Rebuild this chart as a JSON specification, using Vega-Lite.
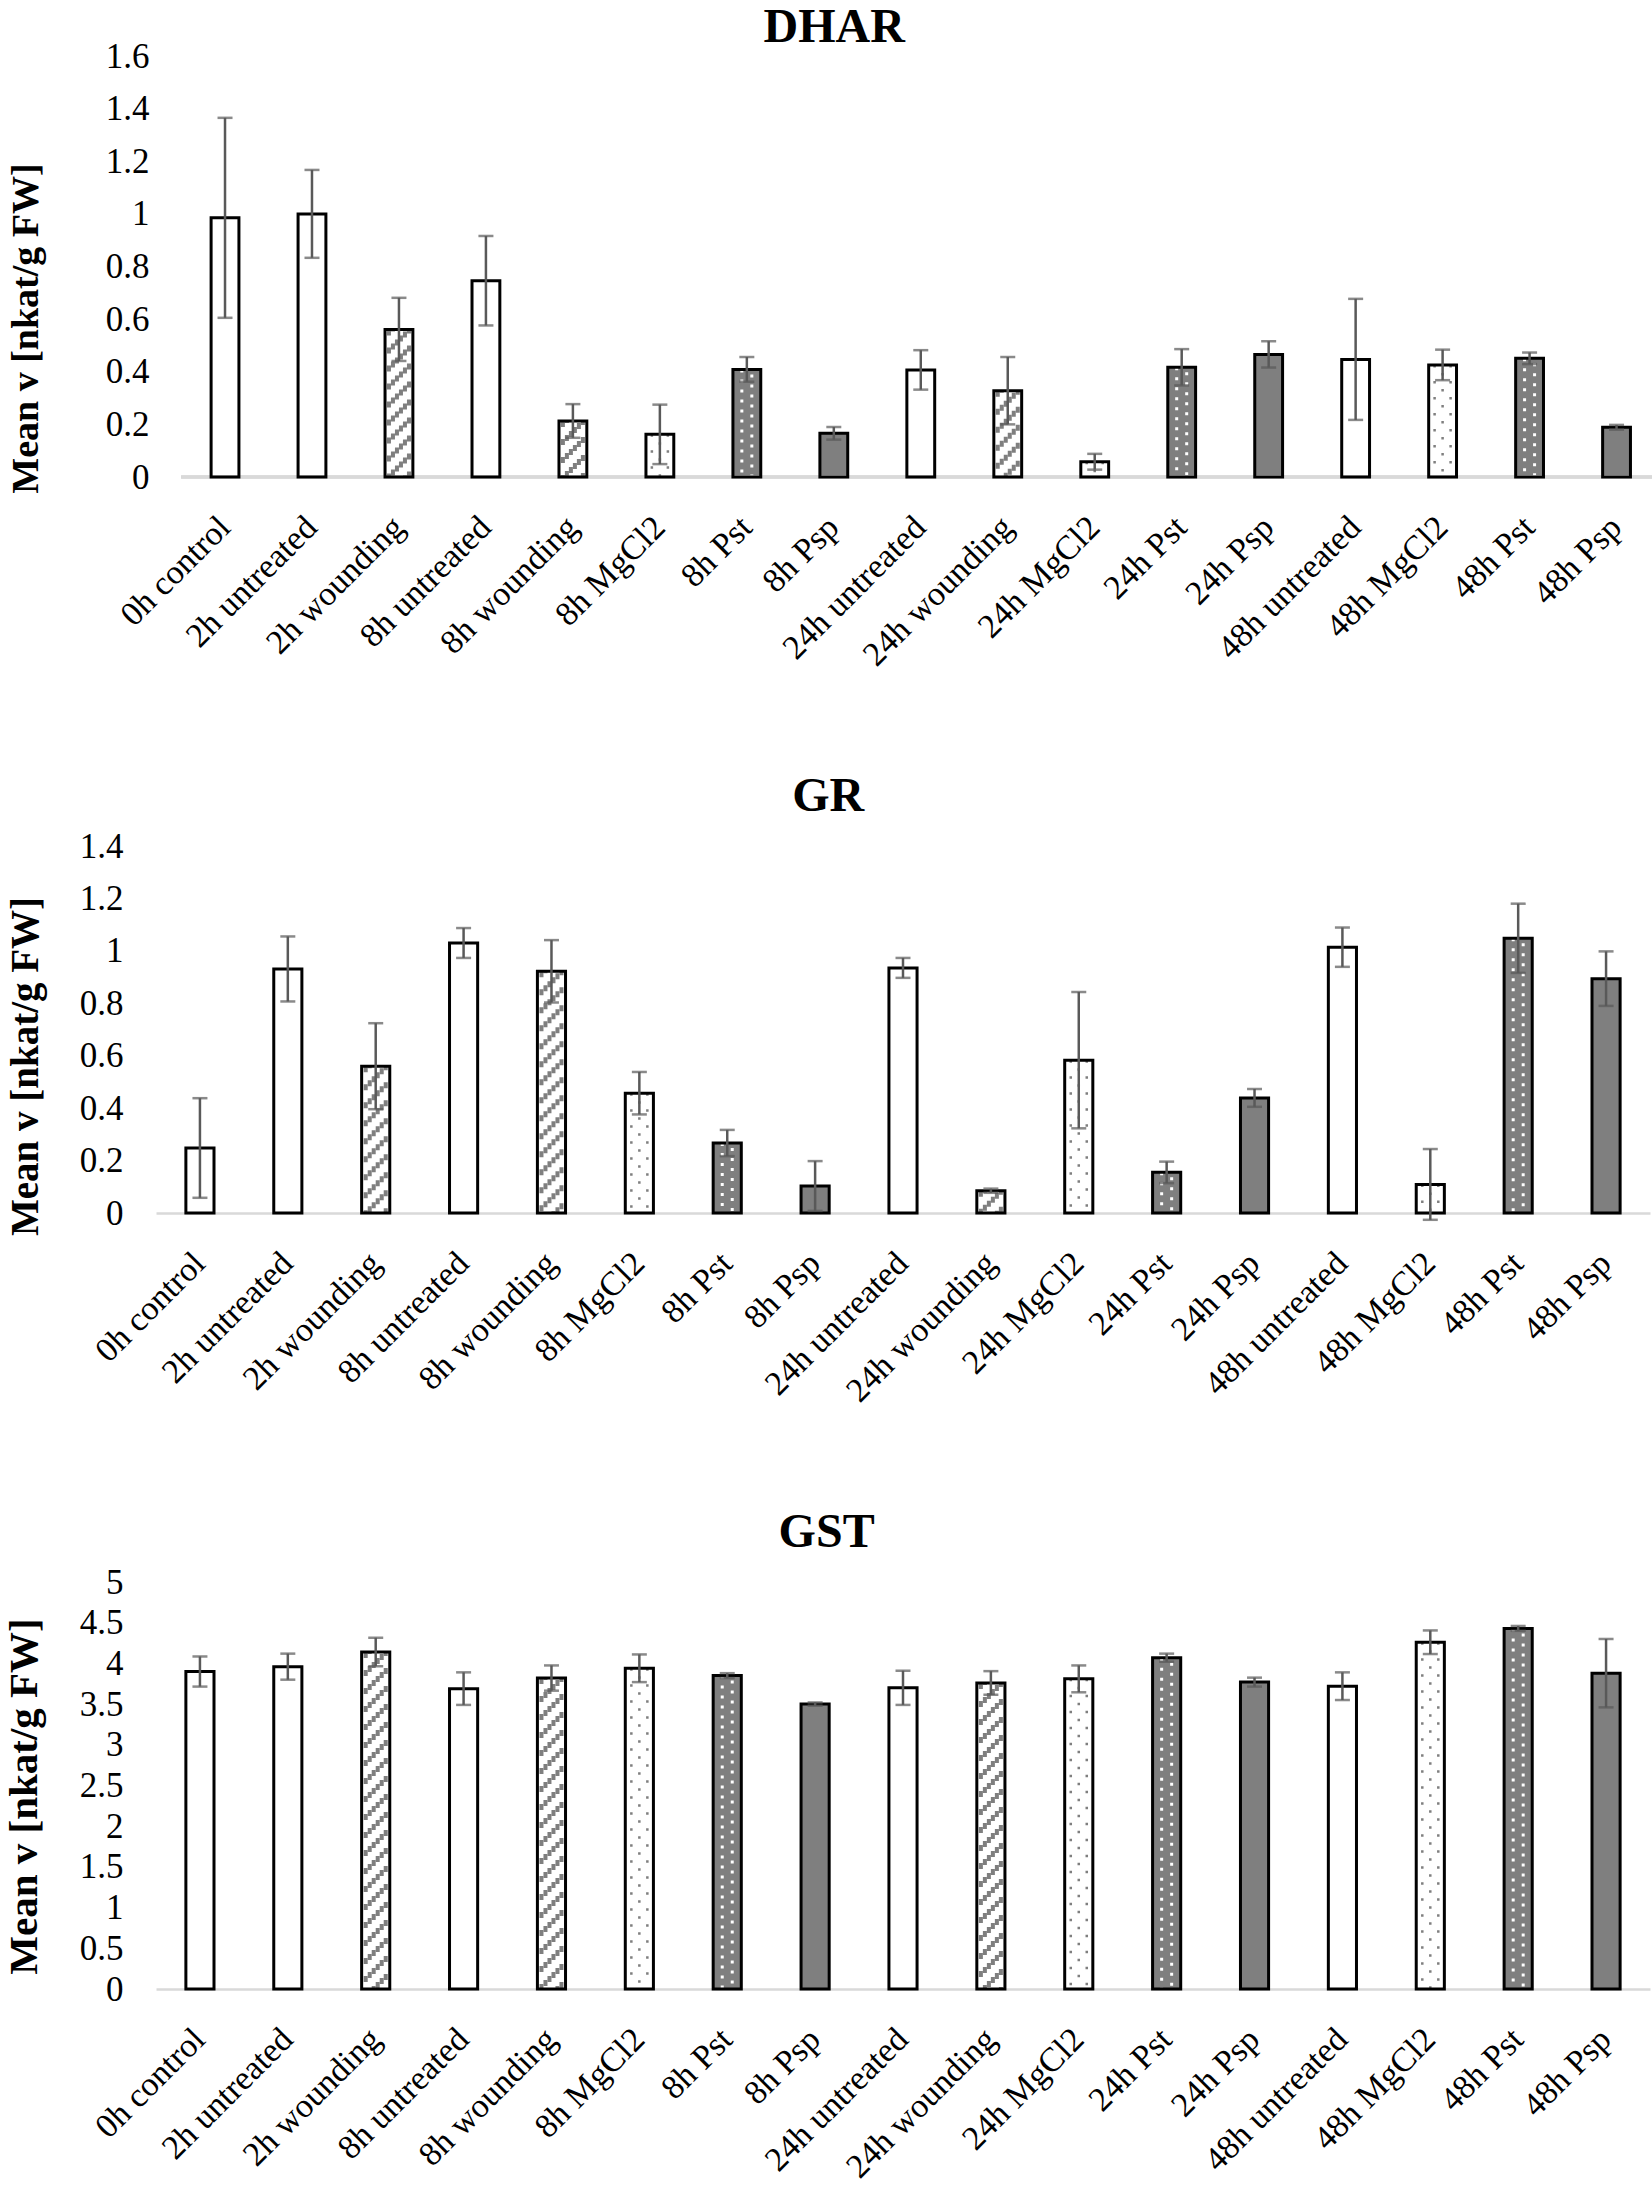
{
"$schema": "https://vega.github.io/schema/vega-lite/v6.json",
"background": "white",
"padding": {"left": 3, "top": 4, "right": 0, "bottom": 0},
"config": {
  "view": {"stroke": null},
  "font": "Liberation Serif",
  "scale": {"bandPaddingInner": 0.68, "bandPaddingOuter": 0.34},
  "title": {"font": "Liberation Serif", "fontSize": 48, "fontWeight": "bold", "color": "#000000", "anchor": "middle", "frame": "bounds", "offset": 8},
  "axisX": {"title": null, "labelAngle": -45, "labelAlign": "right", "labelBaseline": "middle", "labelPadding": 45, "labelFontSize": 34, "labelLimit": 600, "ticks": false, "domainColor": "#d9d9d9", "domainWidth": 2.5, "labelColor": "#000000", "labelFont": "Liberation Serif", "grid": false},
  "axisY": {"format": "~g", "domain": false, "ticks": false, "grid": false, "labelFontSize": 35, "labelPadding": 33, "titleFontSize": 38, "titleFontWeight": "bold", "labelColor": "#000000", "titleColor": "#000000", "labelFont": "Liberation Serif", "titleFont": "Liberation Serif"}
},
"datasets": {
  "dhar": [
    {"sample": "0h control", "treatment": "control", "mean": 0.985, "err": 0.38},
    {"sample": "2h untreated", "treatment": "untreated", "mean": 1.0, "err": 0.167},
    {"sample": "2h wounding", "treatment": "wounding", "mean": 0.561, "err": 0.12},
    {"sample": "8h untreated", "treatment": "untreated", "mean": 0.746, "err": 0.17},
    {"sample": "8h wounding", "treatment": "wounding", "mean": 0.213, "err": 0.064},
    {"sample": "8h MgCl2", "treatment": "MgCl2", "mean": 0.162, "err": 0.113},
    {"sample": "8h Pst", "treatment": "Pst", "mean": 0.409, "err": 0.047},
    {"sample": "8h Psp", "treatment": "Psp", "mean": 0.166, "err": 0.024},
    {"sample": "24h untreated", "treatment": "untreated", "mean": 0.407, "err": 0.075},
    {"sample": "24h wounding", "treatment": "wounding", "mean": 0.328, "err": 0.128},
    {"sample": "24h MgCl2", "treatment": "MgCl2", "mean": 0.058, "err": 0.03},
    {"sample": "24h Pst", "treatment": "Pst", "mean": 0.417, "err": 0.069},
    {"sample": "24h Psp", "treatment": "Psp", "mean": 0.466, "err": 0.05},
    {"sample": "48h untreated", "treatment": "untreated", "mean": 0.447, "err": 0.23},
    {"sample": "48h MgCl2", "treatment": "MgCl2", "mean": 0.426, "err": 0.058},
    {"sample": "48h Pst", "treatment": "Pst", "mean": 0.451, "err": 0.022},
    {"sample": "48h Psp", "treatment": "Psp", "mean": 0.189, "err": 0.009}
  ],
  "gr": [
    {"sample": "0h control", "treatment": "control", "mean": 0.248, "err": 0.19},
    {"sample": "2h untreated", "treatment": "untreated", "mean": 0.931, "err": 0.124},
    {"sample": "2h wounding", "treatment": "wounding", "mean": 0.56, "err": 0.164},
    {"sample": "8h untreated", "treatment": "untreated", "mean": 1.03, "err": 0.057},
    {"sample": "8h wounding", "treatment": "wounding", "mean": 0.922, "err": 0.119},
    {"sample": "8h MgCl2", "treatment": "MgCl2", "mean": 0.457, "err": 0.081},
    {"sample": "8h Pst", "treatment": "Pst", "mean": 0.267, "err": 0.05},
    {"sample": "8h Psp", "treatment": "Psp", "mean": 0.103, "err": 0.095},
    {"sample": "24h untreated", "treatment": "untreated", "mean": 0.935, "err": 0.038},
    {"sample": "24h wounding", "treatment": "wounding", "mean": 0.085, "err": 0.008},
    {"sample": "24h MgCl2", "treatment": "MgCl2", "mean": 0.583, "err": 0.26},
    {"sample": "24h Pst", "treatment": "Pst", "mean": 0.155, "err": 0.041},
    {"sample": "24h Psp", "treatment": "Psp", "mean": 0.439, "err": 0.034},
    {"sample": "48h untreated", "treatment": "untreated", "mean": 1.014, "err": 0.075},
    {"sample": "48h MgCl2", "treatment": "MgCl2", "mean": 0.109, "err": 0.135},
    {"sample": "48h Pst", "treatment": "Pst", "mean": 1.048, "err": 0.132},
    {"sample": "48h Psp", "treatment": "Psp", "mean": 0.894, "err": 0.104}
  ],
  "gst": [
    {"sample": "0h control", "treatment": "control", "mean": 3.9, "err": 0.185},
    {"sample": "2h untreated", "treatment": "untreated", "mean": 3.96, "err": 0.16},
    {"sample": "2h wounding", "treatment": "wounding", "mean": 4.14, "err": 0.175},
    {"sample": "8h untreated", "treatment": "untreated", "mean": 3.69, "err": 0.2},
    {"sample": "8h wounding", "treatment": "wounding", "mean": 3.82, "err": 0.155},
    {"sample": "8h MgCl2", "treatment": "MgCl2", "mean": 3.94, "err": 0.17},
    {"sample": "8h Pst", "treatment": "Pst", "mean": 3.85, "err": 0.03},
    {"sample": "8h Psp", "treatment": "Psp", "mean": 3.5, "err": 0.02},
    {"sample": "24h untreated", "treatment": "untreated", "mean": 3.7, "err": 0.21},
    {"sample": "24h wounding", "treatment": "wounding", "mean": 3.76, "err": 0.145},
    {"sample": "24h MgCl2", "treatment": "MgCl2", "mean": 3.81, "err": 0.165},
    {"sample": "24h Pst", "treatment": "Pst", "mean": 4.07, "err": 0.05},
    {"sample": "24h Psp", "treatment": "Psp", "mean": 3.77, "err": 0.055},
    {"sample": "48h untreated", "treatment": "untreated", "mean": 3.72, "err": 0.17},
    {"sample": "48h MgCl2", "treatment": "MgCl2", "mean": 4.26, "err": 0.145},
    {"sample": "48h Pst", "treatment": "Pst", "mean": 4.43, "err": 0.03},
    {"sample": "48h Psp", "treatment": "Psp", "mean": 3.88, "err": 0.42}
  ]
},
"spacing": 100,
"vconcat": [
  {
    "title": {"text": "DHAR", "offset": -13},
    "width": 1504, "height": 421,
    "data": {"name": "dhar"},
    "encoding": {
      "x": {"field": "sample", "type": "nominal", "sort": null, "scale": {"domain": ["0h control", "2h untreated", "2h wounding", "8h untreated", "8h wounding", "8h MgCl2", "8h Pst", "8h Psp", "24h untreated", "24h wounding", "24h MgCl2", "24h Pst", "24h Psp", "48h untreated", "48h MgCl2", "48h Pst", "48h Psp"], "paddingOuter": 0.4866, "align": 0.651}, "axis": {"domain": false}},
      "y": {"field": "mean", "type": "quantitative", "scale": {"domain": [0, 1.6], "nice": false}, "axis": {"title": "Mean v [nkat/g FW]", "values": [0, 0.2, 0.4, 0.6, 0.8, 1, 1.2, 1.4, 1.6], "labelPadding": 7, "titlePadding": 60, "titleY": 272, "titleFontSize": 38}}
    },
    "layer": [
      {"mark": {"type": "bar", "strokeWidth": 0}, "encoding": {"fill": {"field": "treatment", "type": "nominal", "scale": {"domain": ["control", "untreated", "wounding", "MgCl2", "Pst", "Psp"], "range": ["#ffffff", "#ffffff", "#ffffff", "#ffffff", "#7f7f7f", "#7f7f7f"]}, "legend": null}}},
      {"mark": {"type": "rule", "color": "#d9d9d9", "strokeWidth": 2.5, "xOffset": -43.5, "x2Offset": 43.5}, "encoding": {"x": {"datum": "0h control"}, "x2": {"datum": "48h Psp"}, "y": {"datum": 0}}},
      {"mark": {"type": "rule", "xOffset": -10, "strokeWidth": 4, "strokeDash": [6, 12], "strokeDashOffset": 0, "color": "#7f7f7f"}, "encoding": {"y2": {"datum": 0}, "strokeOpacity": {"condition": {"test": "datum.treatment === 'wounding'", "value": 1}, "value": 0}}},
      {"mark": {"type": "rule", "xOffset": -6, "strokeWidth": 4, "strokeDash": [6, 12], "strokeDashOffset": 4, "color": "#7f7f7f"}, "encoding": {"y2": {"datum": 0}, "strokeOpacity": {"condition": {"test": "datum.treatment === 'wounding'", "value": 1}, "value": 0}}},
      {"mark": {"type": "rule", "xOffset": -2, "strokeWidth": 4, "strokeDash": [6, 12], "strokeDashOffset": 8, "color": "#7f7f7f"}, "encoding": {"y2": {"datum": 0}, "strokeOpacity": {"condition": {"test": "datum.treatment === 'wounding'", "value": 1}, "value": 0}}},
      {"mark": {"type": "rule", "xOffset": 2, "strokeWidth": 4, "strokeDash": [6, 12], "strokeDashOffset": 12, "color": "#7f7f7f"}, "encoding": {"y2": {"datum": 0}, "strokeOpacity": {"condition": {"test": "datum.treatment === 'wounding'", "value": 1}, "value": 0}}},
      {"mark": {"type": "rule", "xOffset": 6, "strokeWidth": 4, "strokeDash": [6, 12], "strokeDashOffset": 16, "color": "#7f7f7f"}, "encoding": {"y2": {"datum": 0}, "strokeOpacity": {"condition": {"test": "datum.treatment === 'wounding'", "value": 1}, "value": 0}}},
      {"mark": {"type": "rule", "xOffset": 10, "strokeWidth": 4, "strokeDash": [6, 12], "strokeDashOffset": 20, "color": "#7f7f7f"}, "encoding": {"y2": {"datum": 0}, "strokeOpacity": {"condition": {"test": "datum.treatment === 'wounding'", "value": 1}, "value": 0}}},
      {"mark": {"type": "rule", "xOffset": -8, "strokeWidth": 2.5, "strokeDash": [2.5, 13.5], "strokeDashOffset": 0, "color": "#7f7f7f"}, "encoding": {"y2": {"datum": 0}, "strokeOpacity": {"condition": {"test": "datum.treatment === 'MgCl2'", "value": 1}, "value": 0}}},
      {"mark": {"type": "rule", "xOffset": 0, "strokeWidth": 2.5, "strokeDash": [2.5, 13.5], "strokeDashOffset": 8, "color": "#7f7f7f"}, "encoding": {"y2": {"datum": 0}, "strokeOpacity": {"condition": {"test": "datum.treatment === 'MgCl2'", "value": 1}, "value": 0}}},
      {"mark": {"type": "rule", "xOffset": 8, "strokeWidth": 2.5, "strokeDash": [2.5, 13.5], "strokeDashOffset": 0, "color": "#7f7f7f"}, "encoding": {"y2": {"datum": 0}, "strokeOpacity": {"condition": {"test": "datum.treatment === 'MgCl2'", "value": 1}, "value": 0}}},
      {"mark": {"type": "rule", "xOffset": -5, "strokeWidth": 3, "strokeDash": [3, 7], "strokeDashOffset": 0, "color": "#ffffff"}, "encoding": {"y2": {"datum": 0}, "strokeOpacity": {"condition": {"test": "datum.treatment === 'Pst'", "value": 1}, "value": 0}}},
      {"mark": {"type": "rule", "xOffset": 5, "strokeWidth": 3, "strokeDash": [3, 7], "strokeDashOffset": 5, "color": "#ffffff"}, "encoding": {"y2": {"datum": 0}, "strokeOpacity": {"condition": {"test": "datum.treatment === 'Pst'", "value": 1}, "value": 0}}},
      {"mark": {"type": "bar", "fill": "transparent", "stroke": "#000000", "strokeWidth": 3}},
      {"mark": {"type": "errorbar", "ticks": true, "size": 15, "thickness": 2.5, "color": "#595959"}, "encoding": {"yError": {"field": "err"}}}
    ]
  },
  {
    "title": "GR",
    "width": 1494, "height": 367,
    "data": {"name": "gr"},
    "encoding": {
      "x": {"field": "sample", "type": "nominal", "sort": null},
      "y": {"field": "mean", "type": "quantitative", "scale": {"domain": [0, 1.4], "nice": false}, "axis": {"title": "Mean v [nkat/g FW]", "values": [0, 0.2, 0.4, 0.6, 0.8, 1, 1.2, 1.4], "titlePadding": 34, "titleY": 220, "titleFontSize": 39}}
    },
    "layer": [
      {"mark": {"type": "bar", "strokeWidth": 0}, "encoding": {"fill": {"field": "treatment", "type": "nominal", "scale": {"domain": ["control", "untreated", "wounding", "MgCl2", "Pst", "Psp"], "range": ["#ffffff", "#ffffff", "#ffffff", "#ffffff", "#7f7f7f", "#7f7f7f"]}, "legend": null}}},
      {"mark": {"type": "rule", "xOffset": -10, "strokeWidth": 4, "strokeDash": [6, 12], "strokeDashOffset": 0, "color": "#7f7f7f"}, "encoding": {"y2": {"datum": 0}, "strokeOpacity": {"condition": {"test": "datum.treatment === 'wounding'", "value": 1}, "value": 0}}},
      {"mark": {"type": "rule", "xOffset": -6, "strokeWidth": 4, "strokeDash": [6, 12], "strokeDashOffset": 4, "color": "#7f7f7f"}, "encoding": {"y2": {"datum": 0}, "strokeOpacity": {"condition": {"test": "datum.treatment === 'wounding'", "value": 1}, "value": 0}}},
      {"mark": {"type": "rule", "xOffset": -2, "strokeWidth": 4, "strokeDash": [6, 12], "strokeDashOffset": 8, "color": "#7f7f7f"}, "encoding": {"y2": {"datum": 0}, "strokeOpacity": {"condition": {"test": "datum.treatment === 'wounding'", "value": 1}, "value": 0}}},
      {"mark": {"type": "rule", "xOffset": 2, "strokeWidth": 4, "strokeDash": [6, 12], "strokeDashOffset": 12, "color": "#7f7f7f"}, "encoding": {"y2": {"datum": 0}, "strokeOpacity": {"condition": {"test": "datum.treatment === 'wounding'", "value": 1}, "value": 0}}},
      {"mark": {"type": "rule", "xOffset": 6, "strokeWidth": 4, "strokeDash": [6, 12], "strokeDashOffset": 16, "color": "#7f7f7f"}, "encoding": {"y2": {"datum": 0}, "strokeOpacity": {"condition": {"test": "datum.treatment === 'wounding'", "value": 1}, "value": 0}}},
      {"mark": {"type": "rule", "xOffset": 10, "strokeWidth": 4, "strokeDash": [6, 12], "strokeDashOffset": 20, "color": "#7f7f7f"}, "encoding": {"y2": {"datum": 0}, "strokeOpacity": {"condition": {"test": "datum.treatment === 'wounding'", "value": 1}, "value": 0}}},
      {"mark": {"type": "rule", "xOffset": -8, "strokeWidth": 2.5, "strokeDash": [2.5, 13.5], "strokeDashOffset": 0, "color": "#7f7f7f"}, "encoding": {"y2": {"datum": 0}, "strokeOpacity": {"condition": {"test": "datum.treatment === 'MgCl2'", "value": 1}, "value": 0}}},
      {"mark": {"type": "rule", "xOffset": 0, "strokeWidth": 2.5, "strokeDash": [2.5, 13.5], "strokeDashOffset": 8, "color": "#7f7f7f"}, "encoding": {"y2": {"datum": 0}, "strokeOpacity": {"condition": {"test": "datum.treatment === 'MgCl2'", "value": 1}, "value": 0}}},
      {"mark": {"type": "rule", "xOffset": 8, "strokeWidth": 2.5, "strokeDash": [2.5, 13.5], "strokeDashOffset": 0, "color": "#7f7f7f"}, "encoding": {"y2": {"datum": 0}, "strokeOpacity": {"condition": {"test": "datum.treatment === 'MgCl2'", "value": 1}, "value": 0}}},
      {"mark": {"type": "rule", "xOffset": -5, "strokeWidth": 3, "strokeDash": [3, 7], "strokeDashOffset": 0, "color": "#ffffff"}, "encoding": {"y2": {"datum": 0}, "strokeOpacity": {"condition": {"test": "datum.treatment === 'Pst'", "value": 1}, "value": 0}}},
      {"mark": {"type": "rule", "xOffset": 5, "strokeWidth": 3, "strokeDash": [3, 7], "strokeDashOffset": 5, "color": "#ffffff"}, "encoding": {"y2": {"datum": 0}, "strokeOpacity": {"condition": {"test": "datum.treatment === 'Pst'", "value": 1}, "value": 0}}},
      {"mark": {"type": "bar", "fill": "transparent", "stroke": "#000000", "strokeWidth": 3}},
      {"mark": {"type": "errorbar", "ticks": true, "size": 15, "thickness": 2.5, "color": "#595959"}, "encoding": {"yError": {"field": "err"}}}
    ]
  },
  {
    "title": "GST",
    "width": 1494, "height": 407,
    "data": {"name": "gst"},
    "encoding": {
      "x": {"field": "sample", "type": "nominal", "sort": null},
      "y": {"field": "mean", "type": "quantitative", "scale": {"domain": [0, 5], "nice": false}, "axis": {"title": "Mean v [nkat/g FW]", "values": [0, 0.5, 1, 1.5, 2, 2.5, 3, 3.5, 4, 4.5, 5], "titlePadding": 34, "titleY": 214, "titleFontSize": 41}}
    },
    "layer": [
      {"mark": {"type": "bar", "strokeWidth": 0}, "encoding": {"fill": {"field": "treatment", "type": "nominal", "scale": {"domain": ["control", "untreated", "wounding", "MgCl2", "Pst", "Psp"], "range": ["#ffffff", "#ffffff", "#ffffff", "#ffffff", "#7f7f7f", "#7f7f7f"]}, "legend": null}}},
      {"mark": {"type": "rule", "xOffset": -10, "strokeWidth": 4, "strokeDash": [6, 12], "strokeDashOffset": 0, "color": "#7f7f7f"}, "encoding": {"y2": {"datum": 0}, "strokeOpacity": {"condition": {"test": "datum.treatment === 'wounding'", "value": 1}, "value": 0}}},
      {"mark": {"type": "rule", "xOffset": -6, "strokeWidth": 4, "strokeDash": [6, 12], "strokeDashOffset": 4, "color": "#7f7f7f"}, "encoding": {"y2": {"datum": 0}, "strokeOpacity": {"condition": {"test": "datum.treatment === 'wounding'", "value": 1}, "value": 0}}},
      {"mark": {"type": "rule", "xOffset": -2, "strokeWidth": 4, "strokeDash": [6, 12], "strokeDashOffset": 8, "color": "#7f7f7f"}, "encoding": {"y2": {"datum": 0}, "strokeOpacity": {"condition": {"test": "datum.treatment === 'wounding'", "value": 1}, "value": 0}}},
      {"mark": {"type": "rule", "xOffset": 2, "strokeWidth": 4, "strokeDash": [6, 12], "strokeDashOffset": 12, "color": "#7f7f7f"}, "encoding": {"y2": {"datum": 0}, "strokeOpacity": {"condition": {"test": "datum.treatment === 'wounding'", "value": 1}, "value": 0}}},
      {"mark": {"type": "rule", "xOffset": 6, "strokeWidth": 4, "strokeDash": [6, 12], "strokeDashOffset": 16, "color": "#7f7f7f"}, "encoding": {"y2": {"datum": 0}, "strokeOpacity": {"condition": {"test": "datum.treatment === 'wounding'", "value": 1}, "value": 0}}},
      {"mark": {"type": "rule", "xOffset": 10, "strokeWidth": 4, "strokeDash": [6, 12], "strokeDashOffset": 20, "color": "#7f7f7f"}, "encoding": {"y2": {"datum": 0}, "strokeOpacity": {"condition": {"test": "datum.treatment === 'wounding'", "value": 1}, "value": 0}}},
      {"mark": {"type": "rule", "xOffset": -8, "strokeWidth": 2.5, "strokeDash": [2.5, 13.5], "strokeDashOffset": 0, "color": "#7f7f7f"}, "encoding": {"y2": {"datum": 0}, "strokeOpacity": {"condition": {"test": "datum.treatment === 'MgCl2'", "value": 1}, "value": 0}}},
      {"mark": {"type": "rule", "xOffset": 0, "strokeWidth": 2.5, "strokeDash": [2.5, 13.5], "strokeDashOffset": 8, "color": "#7f7f7f"}, "encoding": {"y2": {"datum": 0}, "strokeOpacity": {"condition": {"test": "datum.treatment === 'MgCl2'", "value": 1}, "value": 0}}},
      {"mark": {"type": "rule", "xOffset": 8, "strokeWidth": 2.5, "strokeDash": [2.5, 13.5], "strokeDashOffset": 0, "color": "#7f7f7f"}, "encoding": {"y2": {"datum": 0}, "strokeOpacity": {"condition": {"test": "datum.treatment === 'MgCl2'", "value": 1}, "value": 0}}},
      {"mark": {"type": "rule", "xOffset": -5, "strokeWidth": 3, "strokeDash": [3, 7], "strokeDashOffset": 0, "color": "#ffffff"}, "encoding": {"y2": {"datum": 0}, "strokeOpacity": {"condition": {"test": "datum.treatment === 'Pst'", "value": 1}, "value": 0}}},
      {"mark": {"type": "rule", "xOffset": 5, "strokeWidth": 3, "strokeDash": [3, 7], "strokeDashOffset": 5, "color": "#ffffff"}, "encoding": {"y2": {"datum": 0}, "strokeOpacity": {"condition": {"test": "datum.treatment === 'Pst'", "value": 1}, "value": 0}}},
      {"mark": {"type": "bar", "fill": "transparent", "stroke": "#000000", "strokeWidth": 3}},
      {"mark": {"type": "errorbar", "ticks": true, "size": 15, "thickness": 2.5, "color": "#595959"}, "encoding": {"yError": {"field": "err"}}}
    ]
  }
]
}
